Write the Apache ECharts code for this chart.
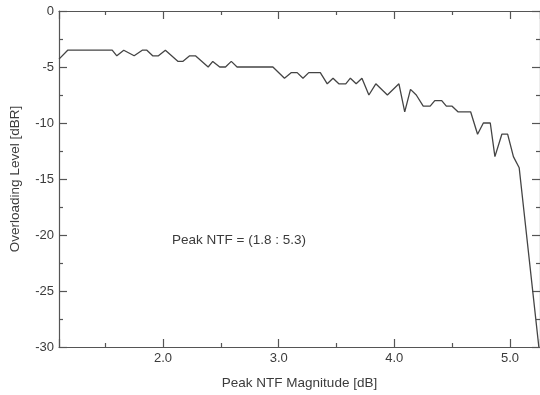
<!DOCTYPE html>
<html>
<head>
<meta charset="utf-8">
<script src="https://cdn.jsdelivr.net/npm/echarts@6/dist/echarts.min.js"></script>
<style>
  html, body { margin: 0; padding: 0; background: #fff; }
  #chart { width: 540px; height: 395px; }
</style>
</head>
<body>
<div id="chart"></div>
<script>
// peak NTF magnitude [dB] (x) vs overloading level [dBR] (y)
const peakNtf = [
  1.10, 1.175, 1.56, 1.60, 1.66, 1.75, 1.82, 1.86, 1.91, 1.96,
  2.02, 2.13, 2.17, 2.23, 2.28, 2.39, 2.43, 2.49, 2.54, 2.59,
  2.64, 2.95, 3.05, 3.11, 3.16, 3.21, 3.26, 3.36, 3.42, 3.47,
  3.52, 3.58, 3.62, 3.67, 3.72, 3.78, 3.84, 3.94, 4.04, 4.09,
  4.14, 4.19, 4.25, 4.31, 4.35, 4.41, 4.45, 4.50, 4.55, 4.66,
  4.72, 4.77, 4.83, 4.87, 4.93, 4.98, 5.03, 5.08, 5.25
];
const overloadLevel = [
  -4.3, -3.5, -3.5, -4.0, -3.5, -4.0, -3.5, -3.5, -4.0, -4.0,
  -3.5, -4.5, -4.5, -4.0, -4.0, -5.0, -4.5, -5.0, -5.0, -4.5,
  -5.0, -5.0, -6.0, -5.5, -5.5, -6.0, -5.5, -5.5, -6.5, -6.0,
  -6.5, -6.5, -6.0, -6.5, -6.0, -7.5, -6.5, -7.5, -6.5, -9.0,
  -7.0, -7.5, -8.5, -8.5, -8.0, -8.0, -8.5, -8.5, -9.0, -9.0,
  -11.0, -10.0, -10.0, -13.0, -11.0, -11.0, -13.0, -14.0, -30.0
];
const yTicks = [0, -5, -10, -15, -20, -25, -30];
const annotation = "Peak NTF = (1.8 : 5.3)";

const ink = "#3b3b3b";
const axisColor = "#555";
const fontFamily = "'Liberation Sans', Arial, sans-serif";

const chart = echarts.init(document.getElementById("chart"), null, { renderer: "canvas" });

const tickCommon = {
  axisLine: { show: true, onZero: false, lineStyle: { color: axisColor, width: 1.2 } },
  axisTick: { show: true, inside: true, length: 8, lineStyle: { color: axisColor, width: 1.2 } },
  minorTick: { show: true, splitNumber: 2, length: 4, lineStyle: { color: axisColor, width: 1.2 } },
  splitLine: { show: false },
  minorSplitLine: { show: false },
};

const option = {
  animation: false,
  backgroundColor: "#fff",
  grid: { left: 58, top: 11, width: 484, height: 337, containLabel: false },
  xAxis: [
    {
      type: "value",
      min: 1.1,
      max: 5.26,
      splitNumber: 4,
      name: "Peak NTF Magnitude [dB]",
      nameLocation: "middle",
      nameGap: 29,
      nameTextStyle: { color: ink, fontSize: 13.5, fontFamily },
      axisLabel: {
        color: ink,
        fontSize: 13,
        fontFamily,
        margin: 5,
        showMinLabel: false,
        showMaxLabel: false,
        formatter: (v) => (Math.abs(v - Math.round(v)) < 1e-6 ? v.toFixed(1) : ""),
      },
      ...tickCommon,
    },
    {
      type: "value",
      position: "top",
      min: 1.1,
      max: 5.26,
      splitNumber: 4,
      axisLabel: { show: false },
      ...tickCommon,
    },
  ],
  yAxis: [
    {
      type: "value",
      min: -30,
      max: 0,
      interval: 5,
      name: "Overloading Level [dBR]",
      nameLocation: "middle",
      nameGap: 37,
      nameTextStyle: { color: ink, fontSize: 13.5, fontFamily },
      axisLabel: {
        color: ink,
        fontSize: 13,
        fontFamily,
        margin: 5,
        formatter: (v) => (yTicks.includes(v) ? String(v) : ""),
      },
      ...tickCommon,
    },
    {
      type: "value",
      position: "right",
      min: -30,
      max: 0,
      interval: 5,
      axisLabel: { show: false },
      ...tickCommon,
    },
  ],
  graphic: [
    {
      type: "text",
      left: 172,
      top: 233,
      style: { text: annotation, fill: ink, font: "13.5px " + fontFamily },
    },
  ],
  series: [
    {
      type: "line",
      xAxisIndex: 0,
      yAxisIndex: 0,
      data: peakNtf.map((x, i) => [x, overloadLevel[i]]),
      showSymbol: false,
      symbol: "none",
      lineStyle: { color: "#444", width: 1.3 },
      clip: false,
    },
  ],
};

chart.setOption(option);
</script>
</body>
</html>
